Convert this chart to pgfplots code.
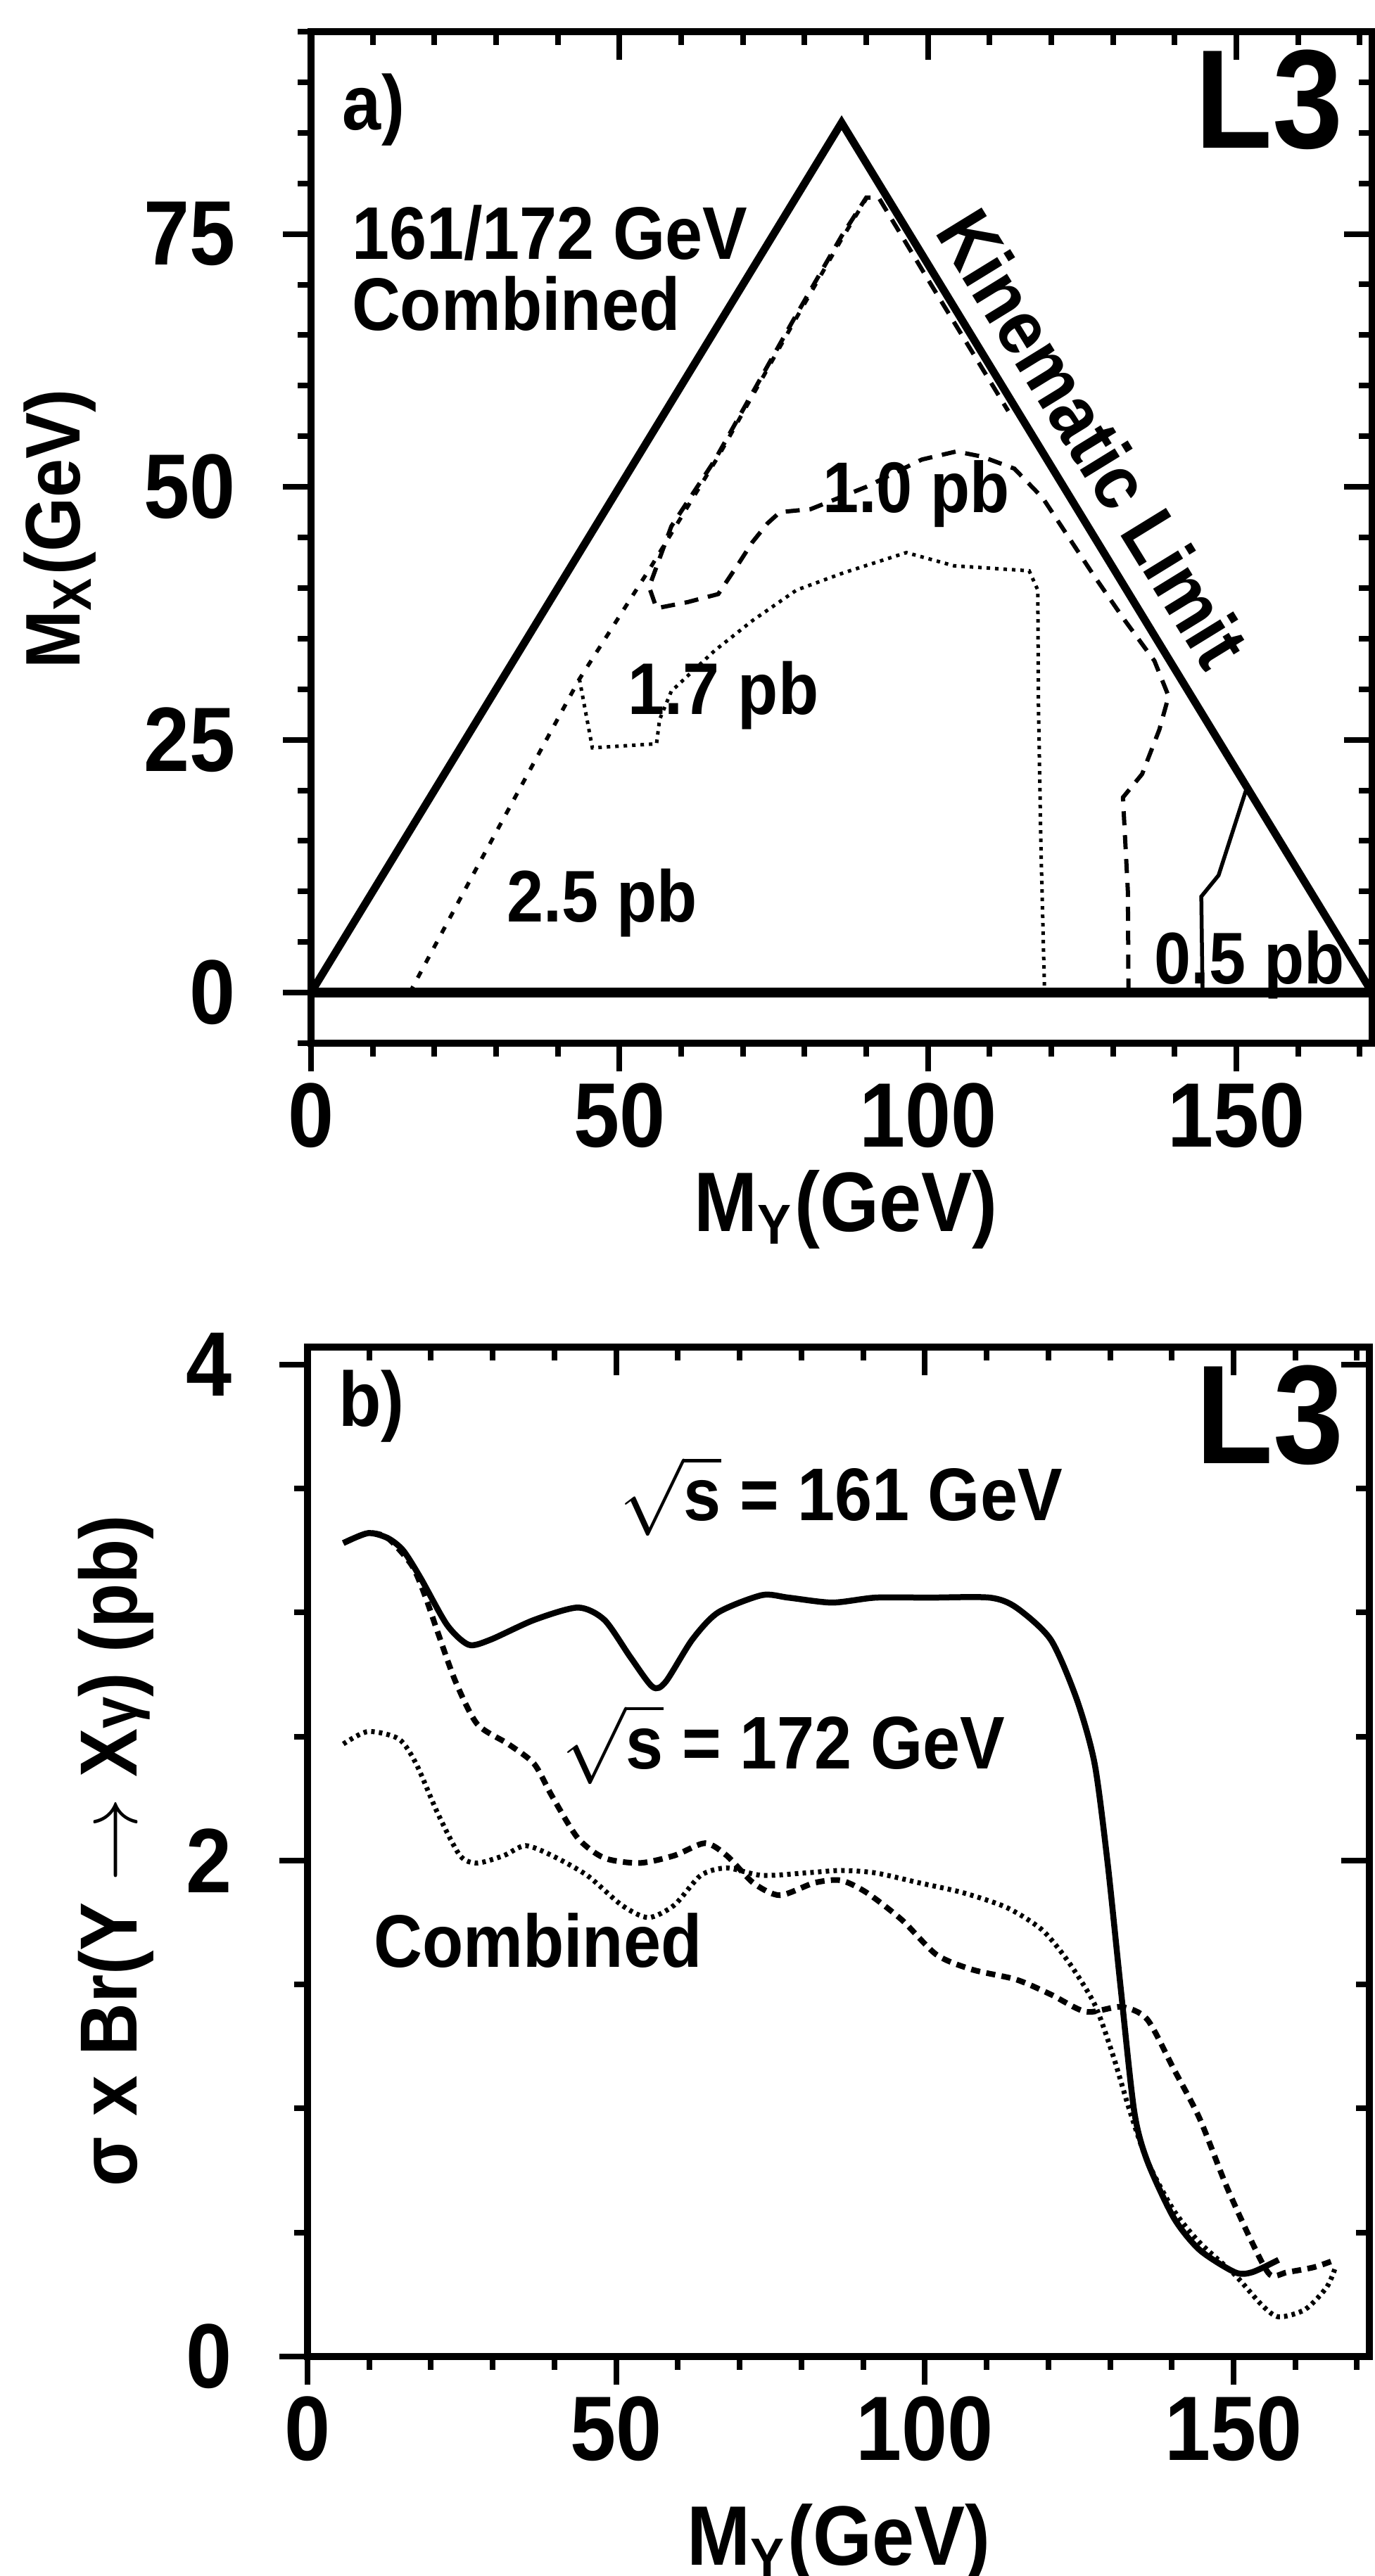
\documentclass[border=0pt]{standalone}
\usepackage{fontspec}
\setmainfont{Liberation Sans}[FakeStretch=0.9]
\usepackage{pgfplots}
\pgfplotsset{compat=1.18}
\newcommand{\lf}[1]{\fontsize{#1}{#1}\selectfont\bfseries}

\pgfplotsset{
  base/.style={
    scale only axis, clip=false,
    axis line style={line width=1.0pt},
    every tick/.style={line width=0.8pt, black},
    major tick length=4pt, minor tick length=1.9pt,
    xmin=0, xmax=172,
    xtick={0,50,100,150}, minor xtick={0,10,...,170},
    /pgf/number format/assume math mode=true,
    ticklabel style={font=\lf{13pt}, inner sep=0pt},
    xticklabel style={anchor=north},
    yticklabel style={anchor=east},
  },
  outer/.style={base, tick align=outside, xtick pos=left, ytick pos=left},
  inner/.style={base, tick align=inside, xtick pos=right, ytick pos=right,
    xticklabels={}, yticklabels={}},
  pa/.style={at={(44.2pt,-148.3pt)}, anchor=south west, width=150.8pt, height=143.8pt,
    ymin=-5, ymax=95, ytick={0,25,50,75}, minor ytick={-5,0,...,95}},
  pb/.style={at={(43.7pt,-335.0pt)}, anchor=south west, width=150.9pt, height=143.5pt,
    ymin=0, ymax=4.07, ytick={0,2,4}, minor ytick={0,0.5,...,4}},
}

\begin{document}
\begin{tikzpicture}
% ---------------- panel a ----------------
\begin{axis}[inner, pa]
\end{axis}
\begin{axis}[outer, pa, xticklabel shift=1.5pt, yticklabel shift=6.5pt]
  % zero line
  \addplot[line width=1.4pt] coordinates {(0,0) (172,0)};
  % kinematic limit
  \addplot[line width=1.1pt] coordinates {(0,0) (86,86) (172,0)};
  % 2.5 pb
  \addplot[line width=0.55pt, dash pattern=on 1pt off 1.4pt] coordinates {
    (16,0) (27,12.5) (43.5,31) (55,42) (66,53) (78,66) (86,74.5) (90,78.5)};
  % 1.0 pb
  \addplot[line width=0.6pt, dash pattern=on 2pt off 1.4pt] coordinates {
    (132.5,0) (132.4,10) (131.6,19.3) (134.7,21.6) (137.5,26) (139,29.3)
    (136.7,32.8) (131.9,36.8) (126.7,41.4) (122.6,45.2) (118.6,48.9) (114,51.8)
    (108.7,53) (104.6,53.5) (99,52.7) (90,50) (81,47.8) (76,47.5) (74,46.4)
    (71.5,44.5) (69.5,42.6) (66,39.4) (61,38.6) (56,38) (54.8,40.1) (58.4,46.1)
    (65.4,52.6) (78,66.3) (86,74.8) (90,78.6) (92,78.6) (100,70.5) (113,57.5)};
  % 1.7 pb
  \addplot[line width=0.5pt, dash pattern=on 0.5pt off 0.7pt] coordinates {
    (43.5,31) (45.6,24.2) (56,24.6) (56.5,27) (58.4,29.8) (65.4,33.8) (71.6,36.8)
    (78.7,39.8) (86.3,41.5) (96.5,43.5) (104.2,42.2) (116.4,41.7) (117.8,39.8)
    (117.9,28.6) (118.3,14.6) (118.9,0)};
  % 0.5 pb
  \addplot[line width=0.55pt] coordinates {
    (144.5,0) (144.3,9.5) (147.1,11.6) (151.7,20.3)};

  \node[anchor=base west, inner sep=0pt, font=\lf{11pt}] at (axis cs:4.9,85.3) {a)};
  \node[anchor=base east, inner sep=0pt, font=\lf{20pt}] at (axis cs:167.5,83.5) {L3};
  \node[anchor=base west, inner sep=0pt, font=\lf{10.6pt}] at (axis cs:6.4,72.5) {161/172 GeV};
  \node[anchor=base west, inner sep=0pt, font=\lf{10.6pt}] at (axis cs:6.4,65.5) {Combined};
  \node[anchor=center, inner sep=0pt, rotate=-58.4, font=\lf{11pt}] at (axis cs:126.8,54.8) {Kinematic Limit};
  \node[anchor=base west, inner sep=0pt, font=\lf{10.2pt}] at (axis cs:82.7,47.5) {1.0 pb};
  \node[anchor=base west, inner sep=0pt, font=\lf{10.4pt}] at (axis cs:51.2,27.5) {1.7 pb};
  \node[anchor=base west, inner sep=0pt, font=\lf{10.4pt}] at (axis cs:31.5,7.0) {2.5 pb};
  \node[anchor=base west, inner sep=0pt, font=\lf{10.4pt}] at (axis cs:136.5,0.85) {0.5 pb};
\end{axis}

% ---------------- panel b ----------------
\begin{axis}[inner, pb]
\end{axis}
\begin{axis}[outer, pb, xticklabel shift=1.5pt, yticklabel shift=6.5pt]
  % sqrt s = 161
  \addplot[line width=0.85pt, smooth, tension=0.45] coordinates {
    (5.8,3.28) (9.8,3.32) (13,3.3) (15.5,3.25) (18.3,3.14) (22.6,2.95) (26.1,2.87)
    (29.6,2.89) (36.7,2.97) (43.8,3.02) (48.1,2.97) (52.3,2.82) (55.9,2.70) (58,2.72)
    (62.3,2.89) (66.5,3.0) (73.6,3.07) (77.9,3.06) (85,3.04) (92,3.06) (100.6,3.06)
    (110.5,3.06) (114.8,3.02) (120.4,2.89) (124.6,2.65) (127.5,2.39) (129.6,1.99)
    (131.7,1.49) (133.9,0.99) (136,0.79) (140.3,0.56) (144.5,0.43) (150.2,0.34)
    (153,0.34) (157.3,0.39)};
  % sqrt s = 172
  \addplot[line width=0.8pt, smooth, tension=0.45, dash pattern=on 1.3pt off 0.9pt] coordinates {
    (5.8,3.28) (9.8,3.32) (13,3.3) (16.9,3.19) (19,3.07) (21.1,2.92) (24,2.72)
    (27.5,2.55) (32.5,2.47) (36.7,2.39) (39.6,2.26) (43.8,2.09) (48.1,2.01) (53.8,1.99)
    (59.4,2.02) (64.4,2.07) (67.9,2.02) (72.2,1.91) (76.5,1.86) (82.1,1.91) (86.4,1.92)
    (90.6,1.87) (96.3,1.76) (101.9,1.62) (107.7,1.56) (114.8,1.52) (120.4,1.46)
    (126.1,1.39) (131.8,1.41) (136,1.36) (140.3,1.16) (144.5,0.96) (148.8,0.69)
    (153,0.46) (155.9,0.33) (158.7,0.34) (163,0.36) (166.5,0.39)};
  % combined
  \addplot[line width=0.7pt, smooth, tension=0.45, dash pattern=on 0.5pt off 0.6pt] coordinates {
    (5.8,2.47) (9.8,2.52) (14.8,2.49) (17.6,2.39) (21.1,2.19) (24.7,2.02) (27.5,1.99)
    (31.8,2.02) (35.3,2.06) (39.6,2.02) (45.3,1.94) (50.9,1.82) (55.2,1.77) (59.4,1.82)
    (63.7,1.94) (67.9,1.97) (73.6,1.94) (80.7,1.95) (86.4,1.96) (92,1.95) (99.1,1.91)
    (106.2,1.87) (113.3,1.81) (119,1.72) (123.3,1.59) (127.5,1.42) (130.4,1.22)
    (133.2,0.99) (136,0.79) (140.3,0.59) (144.5,0.46) (150.2,0.33) (154.5,0.21)
    (157.3,0.16) (161.6,0.19) (165.1,0.28) (166.5,0.36)};

  \node[anchor=base west, inner sep=0pt, font=\lf{11pt}] at (axis cs:4.8,3.75) {b)};
  \node[anchor=base east, inner sep=0pt, font=\lf{20pt}] at (axis cs:168.1,3.60) {L3};
  \node[anchor=base west, inner sep=0pt, font=\lf{10.6pt}] at (axis cs:50.3,3.37) {\(\sqrt{\mbox{s}}\) = 161 GeV};
  \node[anchor=base west, inner sep=0pt, font=\lf{10.6pt}] at (axis cs:41,2.37) {\(\sqrt{\mbox{s}}\) = 172 GeV};
  \node[anchor=base west, inner sep=0pt, font=\lf{10.6pt}] at (axis cs:10.5,1.57) {Combined};
\end{axis}

% axis labels
\node[rotate=90, anchor=center, font=\lf{11pt}] at (8.5pt,-75.2pt) {M\textsubscript{X}(GeV)};
\node[anchor=base, font=\lf{12pt}] at (120.2pt,-175.0pt) {M\textsubscript{Y}(GeV)};
\node[rotate=90, anchor=center, font=\lf{11.5pt}] at (16.5pt,-263.1pt) {σ x Br(Y \(\rightarrow\) X{\fontsize{9pt}{9pt}\selectfont γ}) (pb)};
\node[anchor=base, font=\lf{12pt}] at (119.2pt,-364.6pt) {M\textsubscript{Y}(GeV)};

\pgfresetboundingbox
\useasboundingbox (0pt,0pt) rectangle (195.3pt,-366.2pt);
\end{tikzpicture}
\end{document}
